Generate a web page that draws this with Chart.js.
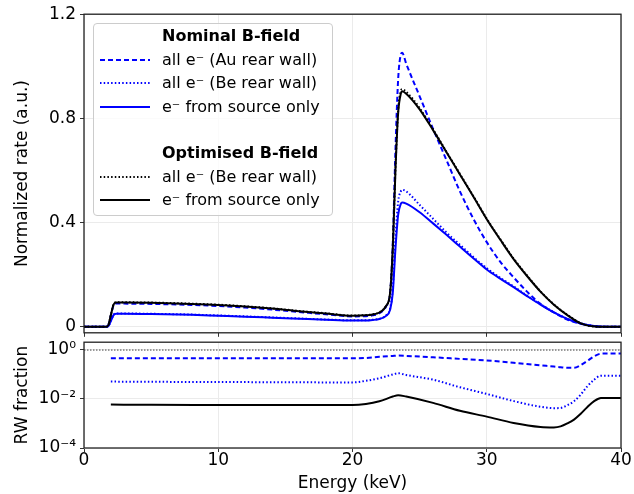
<!DOCTYPE html>
<html lang="en">
<head>
<meta charset="UTF-8">
<title>Rate and RW fraction</title>
<script src="https://cdn.jsdelivr.net/npm/chart.js"></script>
<style>
    body { margin: 0; background: #fff; font-family: "DejaVu Sans", sans-serif; }
    #wrap { position: relative; width: 634px; height: 494px; overflow: hidden; }
    canvas { position: absolute; left: 0; }
    #legend {
        position: absolute; left: 93px; top: 23px; width: 238px; height: 191px;
        border: 1px solid #cccccc; border-radius: 4px; background: rgba(255,255,255,0.8);
        font-size: 16px; color: #000;
    }
    .row { position: absolute; left: 0; height: 23.4px; line-height: 23.4px; white-space: nowrap; }
    .row span { position: absolute; left: 68px; }
    .row svg { position: absolute; left: 6px; top: 6px; }
    .head { font-weight: bold; }
</style>
</head>
<body>
<div id="wrap">
    <canvas id="graficoTaxa" width="634" height="347" style="top:0"></canvas>
    <canvas id="graficoFracao" width="634" height="166" style="top:328px"></canvas>
    <div id="legend"></div>
</div>
<script>
    // upper panel: normalized rate vs energy (keV)
    const energy = [0, 1.6, 1.8, 2.0, 2.2, 2.4, 3, 5, 8, 10, 12, 14, 16, 18, 20, 21, 21.5, 22, 22.5, 22.8,
        23.0, 23.2, 23.4, 23.6, 23.7, 24, 25, 26, 27, 28, 29, 30, 31, 32, 33, 34, 35, 36, 37, 38, 39, 40];

    const nomAuRate = [0, 0, 0.005, 0.043, 0.082, 0.089, 0.089, 0.088, 0.084, 0.080, 0.074, 0.066, 0.057, 0.048, 0.040, 0.041, 0.044, 0.052, 0.078, 0.13,
        0.32, 0.68, 0.95, 1.045, 1.052, 1.01, 0.885, 0.76, 0.64, 0.52, 0.415, 0.325, 0.25, 0.19, 0.135, 0.088, 0.055, 0.028, 0.012, 0.002, 0, 0];
    const nomBeRate = [0, 0, 0.002, 0.023, 0.046, 0.051, 0.051, 0.050, 0.047, 0.0435, 0.040, 0.036, 0.032, 0.028, 0.025, 0.025, 0.027, 0.031, 0.044, 0.07,
        0.15, 0.34, 0.48, 0.52, 0.526, 0.52, 0.468, 0.415, 0.362, 0.315, 0.268, 0.225, 0.188, 0.155, 0.12, 0.087, 0.056, 0.031, 0.013, 0.003, 0, 0];
    const nomSrcRate = [0, 0, 0.002, 0.022, 0.045, 0.050, 0.050, 0.049, 0.046, 0.0425, 0.039, 0.035, 0.031, 0.027, 0.024, 0.024, 0.026, 0.030, 0.042, 0.065,
        0.13, 0.30, 0.43, 0.472, 0.477, 0.473, 0.44, 0.397, 0.353, 0.308, 0.263, 0.22, 0.185, 0.152, 0.118, 0.085, 0.055, 0.03, 0.013, 0.003, 0, 0];
    const optBeRate = [0, 0, 0.005, 0.045, 0.086, 0.094, 0.094, 0.093, 0.089, 0.085, 0.079, 0.071, 0.061, 0.052, 0.043, 0.045, 0.048, 0.056, 0.081, 0.13,
        0.30, 0.61, 0.83, 0.905, 0.912, 0.902, 0.84, 0.758, 0.672, 0.587, 0.502, 0.415, 0.337, 0.262, 0.197, 0.136, 0.086, 0.046, 0.014, 0.001, 0, 0];
    const optSrcRate = [0, 0, 0.005, 0.045, 0.085, 0.093, 0.093, 0.092, 0.088, 0.084, 0.078, 0.070, 0.060, 0.051, 0.0425, 0.044, 0.047, 0.055, 0.08, 0.13,
        0.30, 0.60, 0.82, 0.895, 0.904, 0.895, 0.835, 0.755, 0.67, 0.585, 0.50, 0.413, 0.335, 0.26, 0.195, 0.135, 0.085, 0.045, 0.013, 0.001, 0, 0];

    // lower panel: rear wall fraction
    const fracEnergy = [2, 5, 10, 15, 20, 21, 22, 23, 23.4, 24, 26, 28, 30, 32, 34, 35, 35.5, 36, 36.5, 37, 37.5, 38, 38.5, 39, 40];
    const nomAuFrac = [0.457, 0.457, 0.457, 0.455, 0.455, 0.47, 0.52, 0.57, 0.585, 0.57, 0.50, 0.43, 0.37, 0.30, 0.235, 0.21, 0.196, 0.186, 0.186, 0.24, 0.36, 0.55, 0.70, 0.71, 0.71];
    const nomBeFrac = [0.051, 0.050, 0.049, 0.048, 0.047, 0.055, 0.07, 0.10, 0.112, 0.095, 0.061, 0.030, 0.016, 0.0082, 0.0048, 0.0042, 0.0043, 0.0055, 0.0081, 0.015, 0.033, 0.061, 0.089, 0.089, 0.089];
    const optBeFrac = [0.0059, 0.0058, 0.0057, 0.0056, 0.0056, 0.0062, 0.008, 0.0125, 0.0142, 0.0125, 0.0069, 0.0033, 0.0019, 0.00105, 0.00072, 0.00069, 0.00076, 0.001, 0.00144, 0.0025, 0.0047, 0.0081, 0.011, 0.011, 0.011];
    const refEnergy = [0, 40];
    const refFrac = [1, 1];

    const energyTicks = [0, 10, 20, 30, 40];
    const rateTicks = [0, 0.4, 0.8, 1.2];
    const fracTicks = [1e-4, 1e-2, 1];
    const fracTickLabels = ['10⁻⁴', '10⁻²', '10⁰'];

    const azul = '#0000ff';
    const preto = '#000000';
    const grade = '#ebebeb';
    const fonte = { family: 'DejaVu Sans', size: 17 };

    function pontos(xs, ys) {
        return xs.map(function (x, i) { return { x: x, y: ys[i] }; });
    }

    function serie(label, xs, ys, cor, tracejado, ordem) {
        return {
            label: label,
            data: pontos(xs, ys),
            borderColor: cor,
            backgroundColor: cor,
            borderWidth: 2,
            borderDash: tracejado,
            pointRadius: 0,
            cubicInterpolationMode: 'monotone',
            fill: false,
            order: ordem
        };
    }

    const moldura = {
        id: 'moldura',
        afterDatasetsDraw(chart) {
            const a = chart.chartArea;
            const ctx = chart.ctx;
            ctx.save();
            ctx.strokeStyle = '#222';
            ctx.lineWidth = 1.3;
            ctx.setLineDash([]);
            ctx.strokeRect(a.left, a.top, a.right - a.left, a.bottom - a.top);
            ctx.restore();
        }
    };

    function eixoX(mostrarRotulos, altura) {
        return {
            type: 'linear', min: 0, max: 40,
            afterBuildTicks: function (s) { s.ticks = energyTicks.map(function (v) { return { value: v }; }); },
            afterFit: function (s) { s.height = altura; },
            grid: { color: grade, lineWidth: 1, tickLength: 4, tickColor: '#333' },
            border: { display: false },
            ticks: { display: mostrarRotulos, font: fonte, color: '#000', padding: -2, maxRotation: 0 },
            title: { display: mostrarRotulos, text: 'Energy (keV)', font: fonte, color: '#000', padding: { top: 0, bottom: 0 } }
        };
    }

    new Chart(document.getElementById('graficoTaxa').getContext('2d'), {
        type: 'line',
        data: {
            datasets: [
                serie('all e⁻ (Au rear wall)', energy, nomAuRate, azul, [5, 3], 4),
                serie('all e⁻ (Be rear wall)', energy, nomBeRate, azul, [1.5, 2.2], 3),
                serie('e⁻ from source only', energy, nomSrcRate, azul, [], 2),
                serie('all e⁻ (Be rear wall)', energy, optBeRate, preto, [1.5, 2.2], 1),
                serie('e⁻ from source only', energy, optSrcRate, preto, [], 0)
            ]
        },
        options: {
            responsive: false,
            animation: false,
            layout: { padding: { top: 14, right: 13, left: 0, bottom: 0 } },
            plugins: { legend: { display: false }, tooltip: { enabled: false } },
            scales: {
                x: eixoX(false, 5),
                y: {
                    type: 'linear', min: -0.023, max: 1.2,
                    afterBuildTicks: function (s) { s.ticks = rateTicks.map(function (v) { return { value: v }; }); },
                    afterFit: function (s) { s.width = 84; },
                    grid: { color: grade, lineWidth: 1, tickLength: 4, tickColor: '#333' },
                    border: { display: false },
                    ticks: {
                        font: fonte, color: '#000', padding: 4,
                        callback: function (v) { return v === 0 ? '0' : v.toFixed(1); }
                    },
                    title: { display: true, text: 'Normalized rate (a.u.)', font: fonte, color: '#000', padding: { top: 12, bottom: 0 } }
                }
            }
        },
        plugins: [moldura]
    });

    new Chart(document.getElementById('graficoFracao').getContext('2d'), {
        type: 'line',
        data: {
            datasets: [
                serie('ref', refEnergy, refFrac, '#999999', [1.5, 1.5], 4),
                serie('Au', fracEnergy, nomAuFrac, azul, [5, 3], 3),
                serie('Be', fracEnergy, nomBeFrac, azul, [1.5, 2.2], 2),
                serie('opt', fracEnergy, optBeFrac, preto, [], 1)
            ]
        },
        options: {
            responsive: false,
            animation: false,
            layout: { padding: { top: 0, right: 13, left: 0, bottom: 0 } },
            plugins: { legend: { display: false }, tooltip: { enabled: false } },
            scales: {
                x: eixoX(true, 46),
                y: {
                    type: 'logarithmic', min: 1e-4, max: 2.06,
                    afterBuildTicks: function (s) { s.ticks = fracTicks.map(function (v) { return { value: v }; }); },
                    afterFit: function (s) { s.width = 84; },
                    grid: { color: grade, lineWidth: 1, tickLength: 4, tickColor: '#333' },
                    border: { display: false },
                    ticks: {
                        font: fonte, color: '#000', padding: 4,
                        callback: function (v) { const i = fracTicks.indexOf(v); return i >= 0 ? fracTickLabels[i] : ''; }
                    },
                    title: { display: true, text: 'RW fraction', font: fonte, color: '#000', padding: { top: 12, bottom: 0 } }
                }
            }
        },
        plugins: [moldura]
    });

    // legenda com dois grupos
    const linhasLegenda = [
        { titulo: 'Nominal B-field' },
        { texto: 'all e⁻ (Au rear wall)', cor: azul, dash: '5 3' },
        { texto: 'all e⁻ (Be rear wall)', cor: azul, dash: '1.5 2.2' },
        { texto: 'e⁻ from source only', cor: azul, dash: '' },
        {},
        { titulo: 'Optimised B-field' },
        { texto: 'all e⁻ (Be rear wall)', cor: preto, dash: '1.5 2.2' },
        { texto: 'e⁻ from source only', cor: preto, dash: '' }
    ];
    const legenda = document.getElementById('legend');
    linhasLegenda.forEach(function (l, i) {
        const div = document.createElement('div');
        div.className = 'row';
        div.style.top = (0.3 + i * 23.4) + 'px';
        if (l.titulo) {
            div.innerHTML = '<span class="head">' + l.titulo + '</span>';
        } else if (l.texto) {
            div.innerHTML = '<svg width="50" height="12"><line x1="0" y1="6" x2="50" y2="6" stroke="' + l.cor +
                '" stroke-width="2" stroke-dasharray="' + l.dash + '"/></svg><span>' + l.texto + '</span>';
        }
        legenda.appendChild(div);
    });
</script>
</body>
</html>
